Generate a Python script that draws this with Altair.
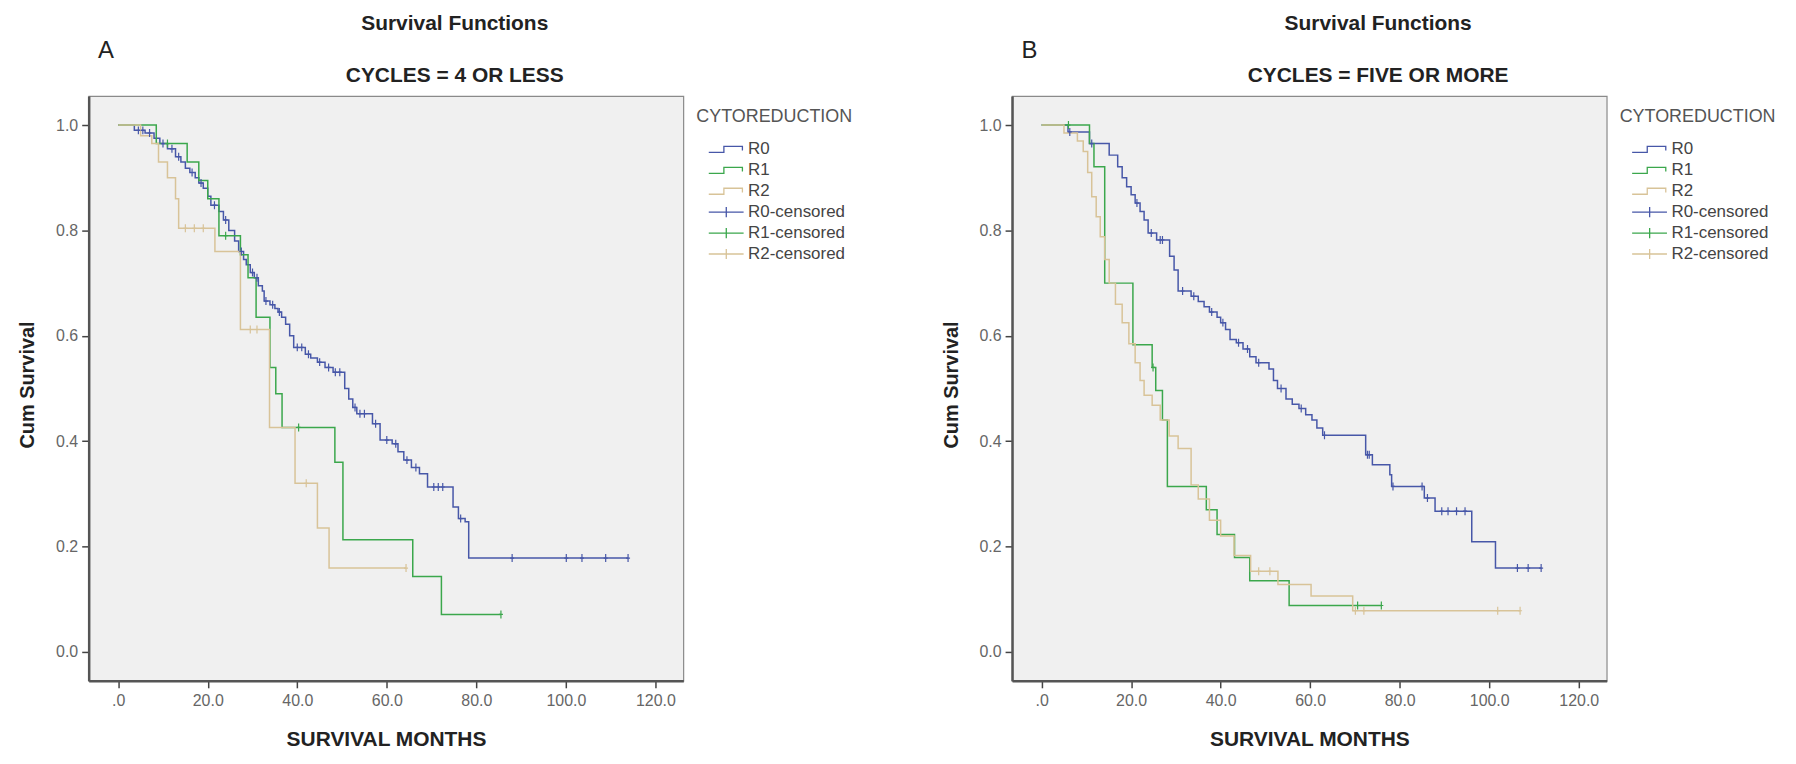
import altair as alt
import pandas as pd

# ---------------- data ----------------
# Panel A : CYCLES = 4 OR LESS   (step times, survival after the step)
A_R0_T = [0, 3.6, 6, 8, 9.3, 11, 12.8, 14, 15, 16, 17.2, 18, 19, 20, 20.7, 22.5, 23.5, 24.7, 26, 26.9,
          28, 28.6, 29.5, 30.4, 31.3, 32.2, 32.6, 33.9, 35, 35.7, 36.5, 37.4, 38.3, 39.2, 41.8, 43, 44.5,
          46.2, 48, 50.6, 51.5, 52.4, 53.3, 56.8, 58.5, 61.2, 62.5, 63.8, 65.5, 67.3, 69.1, 74.8, 76,
          77.5, 78.3]
A_R0_S = [1.0, 0.99, 0.985, 0.975, 0.965, 0.955, 0.94, 0.93, 0.918, 0.91, 0.90, 0.89, 0.88, 0.865, 0.848,
          0.836, 0.82, 0.80, 0.78, 0.76, 0.745, 0.735, 0.72, 0.71, 0.695, 0.685, 0.666, 0.659, 0.652, 0.645,
          0.635, 0.622, 0.60, 0.578, 0.565, 0.558, 0.55, 0.54, 0.531, 0.50, 0.48, 0.464, 0.452, 0.433, 0.402,
          0.395, 0.38, 0.364, 0.35, 0.338, 0.313, 0.275, 0.253, 0.247, 0.178]
A_R0_END = 113.9
A_R0_CENS = [4.5, 5.5, 7, 10, 12, 13.5, 16.5, 18.5, 21.5, 24, 27.5, 30, 31, 33, 34.5, 36, 40, 41, 42.5, 45,
             47, 48.5, 49.5, 52.9, 54, 55, 57.5, 60, 62, 64.5, 66.5, 70.5, 71.5, 72.5, 76.5, 88.0, 100.1,
             103.6, 108.9, 113.9]

A_R1_T = [0, 8.5, 15.4, 18, 20, 22.5, 27.3, 29, 30.8, 33.9, 35.2, 36.6, 48.4, 50.2, 65.8, 72.2]
A_R1_S = [1.0, 0.965, 0.93, 0.895, 0.86, 0.79, 0.754, 0.71, 0.635, 0.54, 0.49, 0.426, 0.36, 0.213, 0.143, 0.071]
A_R1_END = 85.5
A_R1_CENS = [11, 24, 40.3, 85.5]

A_R2_T = [0, 5, 7.5, 9, 11, 12.8, 13.5, 21.6, 27.3, 33.8, 39.5, 44.5, 47.1]
A_R2_S = [1.0, 0.98, 0.965, 0.93, 0.9, 0.86, 0.804, 0.76, 0.612, 0.426, 0.32, 0.235, 0.159]
A_R2_END = 64.3
A_R2_CENS = [15, 17, 19, 29.5, 31, 42, 64.3]

# Panel B : CYCLES = FIVE OR MORE
B_R0_T = [0, 5.9, 10.7, 15.1, 17.0, 18, 19.0, 20, 20.9, 22, 22.9, 23.8, 25.7, 28.6, 29.6, 30.5, 33.4, 35,
          36.3, 37.5, 39.2, 40, 41.1, 42.1, 43.5, 45.0, 46.5, 47.9, 50.8, 51.8, 52.7, 54.6, 56, 57.5, 59,
          60.4, 61.5, 62.8, 72.4, 73.9, 77.8, 78.2, 85.5, 87.9, 96.1, 101.4]
B_R0_S = [1.0, 0.987, 0.965, 0.943, 0.921, 0.90, 0.883, 0.868, 0.852, 0.836, 0.82, 0.795, 0.782, 0.751,
          0.725, 0.685, 0.675, 0.665, 0.655, 0.645, 0.635, 0.625, 0.612, 0.593, 0.587, 0.575, 0.56, 0.549,
          0.537, 0.515, 0.50, 0.48, 0.47, 0.462, 0.45, 0.44, 0.425, 0.411, 0.374, 0.355, 0.336, 0.314,
          0.292, 0.267, 0.209, 0.159]
B_R0_END = 111.6
B_R0_CENS = [6.3, 11.2, 21.3, 24.5, 26.5, 27, 31.5, 34, 38, 40.5, 44, 46, 48.5, 53.5, 58, 63.2, 72.8, 73.2,
             78.5, 85, 86.2, 89.4, 90.8, 92.7, 94.6, 106.3, 108.7, 111.6]

B_R1_T = [0, 10.7, 11.7, 14.1, 20.4, 24.7, 25.5, 27.0, 28.1, 36.8, 39.2, 43.1, 46.5, 55.3]
B_R1_S = [1.0, 0.965, 0.921, 0.70, 0.583, 0.54, 0.496, 0.44, 0.314, 0.270, 0.223, 0.179, 0.135, 0.088]
B_R1_END = 75.9
B_R1_CENS = [6.0, 24.9, 70.6, 75.9]

B_R2_T = [0, 5, 8, 9.3, 10.3, 11.2, 12.2, 13.1, 14.1, 15.1, 16.5, 18, 19.5, 20.9, 22, 22.9, 24.7, 26.5,
          28.5, 30.5, 33.4, 35, 37.5, 40, 43, 46.7, 52.8, 60.2, 69.5]
B_R2_S = [1.0, 0.985, 0.97, 0.95, 0.91, 0.864, 0.826, 0.788, 0.745, 0.70, 0.66, 0.625, 0.585, 0.549, 0.515,
          0.487, 0.468, 0.44, 0.41, 0.386, 0.317, 0.29, 0.25, 0.22, 0.183, 0.153, 0.128, 0.106, 0.078]
B_R2_END = 106.9
B_R2_CENS = [48.5, 51, 70.1, 72, 101.9, 106.9]

LEGEND_ITEMS = ["R0", "R1", "R2", "R0-censored", "R1-censored", "R2-censored"]
COLORS = ["#4757a8", "#3ba74c", "#d8c398", "#4757a8", "#3ba74c", "#d8c398"]
X_TICKS = [0, 20, 40, 60, 80, 100, 120]
Y_TICKS = [0.0, 0.2, 0.4, 0.6, 0.8, 1.0]

# ---------------- helpers ----------------
STEP_PATH = "M0.67,0.5L3.2,0.5L3.2,-0.5L6.3,-0.5L6.3,0.2"
CENS_LEG_PATH = "M0.67,0L6.5,0M3.6,-0.85L3.6,0.85"
CENS_MARK = "M-0.5,0L0.5,0M0,-1L0,1"

W, H = 597, 587
FONT = "Liberation Sans"


def surv_at(ts, ss, c):
    s = ss[0]
    for t, v in zip(ts, ss):
        if t <= c:
            s = v
        else:
            break
    return s


def build(groups):
    lines, cens = [], []
    for g, (ts, ss, end, cs) in groups.items():
        for t, s in zip(ts, ss):
            lines.append({"group": g, "time": t, "surv": s})
        lines.append({"group": g, "time": end, "surv": ss[-1]})
        for c in cs:
            cens.append({"group": g + "-censored", "time": c, "surv": surv_at(ts, ss, c)})
    return pd.DataFrame(lines), pd.DataFrame(cens)


# stroke scale (drawing) uses a reversed domain order so that its (disabled) legend is not merged
# with the colour/shape legend below
stroke_scale = alt.Scale(domain=LEGEND_ITEMS[::-1], range=COLORS[::-1])
color_scale = alt.Scale(domain=LEGEND_ITEMS, range=COLORS)
shape_scale = alt.Scale(domain=LEGEND_ITEMS,
                        range=[STEP_PATH, STEP_PATH, STEP_PATH, CENS_LEG_PATH, CENS_LEG_PATH, CENS_LEG_PATH])

x_enc = alt.X("time:Q", scale=alt.Scale(domain=[-6.6, 126.25], nice=False, zero=False),
              axis=alt.Axis(values=X_TICKS, title="SURVIVAL MONTHS",
                            labelExpr="datum.value == 0 ? '.0' : format(datum.value, '.1f')",
                            titleFontSize=21, titlePadding=20, labelPadding=5))
y_enc = alt.Y("surv:Q", scale=alt.Scale(domain=[-0.055, 1.055], nice=False, zero=False),
              axis=alt.Axis(values=Y_TICKS, format=".1f", title="Cum Survival", titleFontSize=20,
                            titleX=-61, titleY=H / 2 - 4, titleAngle=270, titleBaseline="middle",
                            titleAlign="center", labelPadding=4))

LEG = dict(title="CYTOREDUCTION", orient="right", offset=0, padding=12,
           titleFontWeight="normal", titleFontSize=18, titleColor="#555",
           labelFontSize=17, labelColor="#444", rowPadding=3,
           titlePadding=15, labelOffset=35, symbolStrokeWidth=1.3,
           symbolOpacity=1, symbolSize=144)


def panel(groups, letter, subtitle):
    ldf, cdf = build(groups)
    lines = alt.Chart(ldf).mark_line(interpolate="step-after", strokeWidth=1.5).encode(
        x=x_enc, y=y_enc,
        stroke=alt.Stroke("group:N", scale=stroke_scale, legend=None),
    )
    marks = alt.Chart(cdf).mark_point(shape=CENS_MARK, size=64, filled=False, strokeWidth=1.2,
                                      opacity=1).encode(
        x=x_enc, y=y_enc,
        stroke=alt.Stroke("group:N", scale=stroke_scale, legend=None),
    )
    # invisible layer that only carries the legend (symbols are made opaque in the legend)
    leg = alt.Chart(cdf).mark_point(filled=False, opacity=0, strokeWidth=1.3).encode(
        x=x_enc, y=y_enc,
        color=alt.Color("group:N", scale=color_scale, legend=alt.Legend(**LEG)),
        shape=alt.Shape("group:N", scale=shape_scale, legend=alt.Legend(**LEG)),
    )
    inner = alt.layer(lines, marks, leg).properties(
        width=W, height=H,
        title=alt.TitleParams(text="Survival Functions", subtitle=subtitle, anchor="middle", frame="group",
                              dx=69, fontSize=21, fontWeight="bold", color="#222",
                              subtitleFontSize=21, subtitleFontWeight="bold", subtitleColor="#222",
                              subtitlePadding=31, offset=10, font=FONT, subtitleFont=FONT),
    )
    return alt.hconcat(inner, title=alt.TitleParams(text=letter, anchor="start", frame="bounds",
                                                    fontSize=24, fontWeight="normal", color="#222",
                                                    offset=-50, dx=81, font=FONT))


panelA = panel({"R0": (A_R0_T, A_R0_S, A_R0_END, A_R0_CENS),
                "R1": (A_R1_T, A_R1_S, A_R1_END, A_R1_CENS),
                "R2": (A_R2_T, A_R2_S, A_R2_END, A_R2_CENS)}, "A", "CYCLES = 4 OR LESS")
panelB = panel({"R0": (B_R0_T, B_R0_S, B_R0_END, B_R0_CENS),
                "R1": (B_R1_T, B_R1_S, B_R1_END, B_R1_CENS),
                "R2": (B_R2_T, B_R2_S, B_R2_END, B_R2_CENS)}, "B", "CYCLES = FIVE OR MORE")

chart = alt.hconcat(panelA, panelB, spacing=76).resolve_scale(
    color="independent", shape="independent", stroke="independent"
).resolve_legend(color="independent", shape="independent").properties(
    padding={"left": 9, "top": 3, "right": 0, "bottom": 5}
).configure(font=FONT).configure_view(
    fill="#f0f0f0", stroke="#8a8a8a", strokeWidth=1.2
).configure_axis(
    grid=False, domainColor="#555", domainWidth=2.5, tickColor="#444", tickWidth=1.5, tickSize=7,
    labelColor="#666", labelFontSize=16, titleFontWeight="bold", titleColor="#222", labelFont=FONT,
    titleFont=FONT
)

chart.save("out.html", embed_options={"renderer": "svg", "actions": False})
